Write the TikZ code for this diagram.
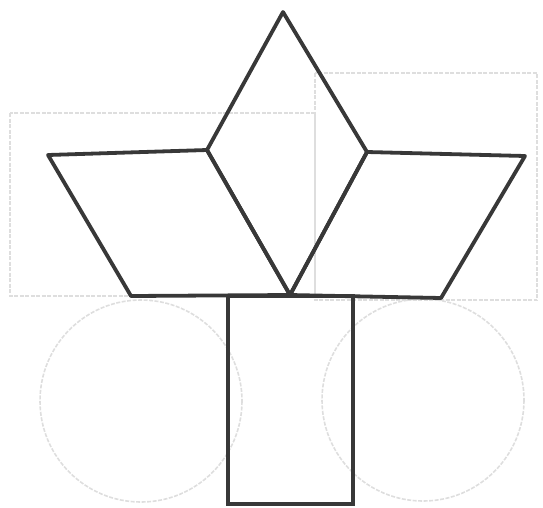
\documentclass[tikz,border=0pt]{standalone}
\begin{document}
\begin{tikzpicture}[x=1pt,y=-1pt,
  faint/.style={draw=black!13,line width=1.6pt,dash pattern=on 4pt off 1.5pt},
  bold/.style={draw=black!78,line width=3.8pt,line join=round,line cap=round},
  thin/.style={draw=black!78,line width=3.1pt,line join=miter}]
\useasboundingbox (0,0) rectangle (543,507);
% faint background shapes
\draw[faint] (10,113) rectangle (315,296);
\draw[faint] (315,73) rectangle (537,300);
\draw[faint] (141,401) circle (101);
\draw[faint] (423,400) circle (101);
% vertices
\coordinate (T) at (283,12);
\coordinate (ML) at (207,150);
\coordinate (MR) at (367,152);
\coordinate (B) at (290,295);
\coordinate (LL) at (48,155);
\coordinate (BL) at (131,296);
\coordinate (RR) at (525,156);
\coordinate (BR) at (441,298);
% rectangle (stem)
\draw[thin] (228,296) rectangle (353,504);
% shapes
\draw[bold] (LL) -- (ML) -- (B) -- (BL) -- cycle;
\draw[bold] (MR) -- (RR) -- (BR) -- (B) -- cycle;
\draw[bold] (T) -- (ML) -- (B) -- (MR) -- cycle;
\end{tikzpicture}
\end{document}
